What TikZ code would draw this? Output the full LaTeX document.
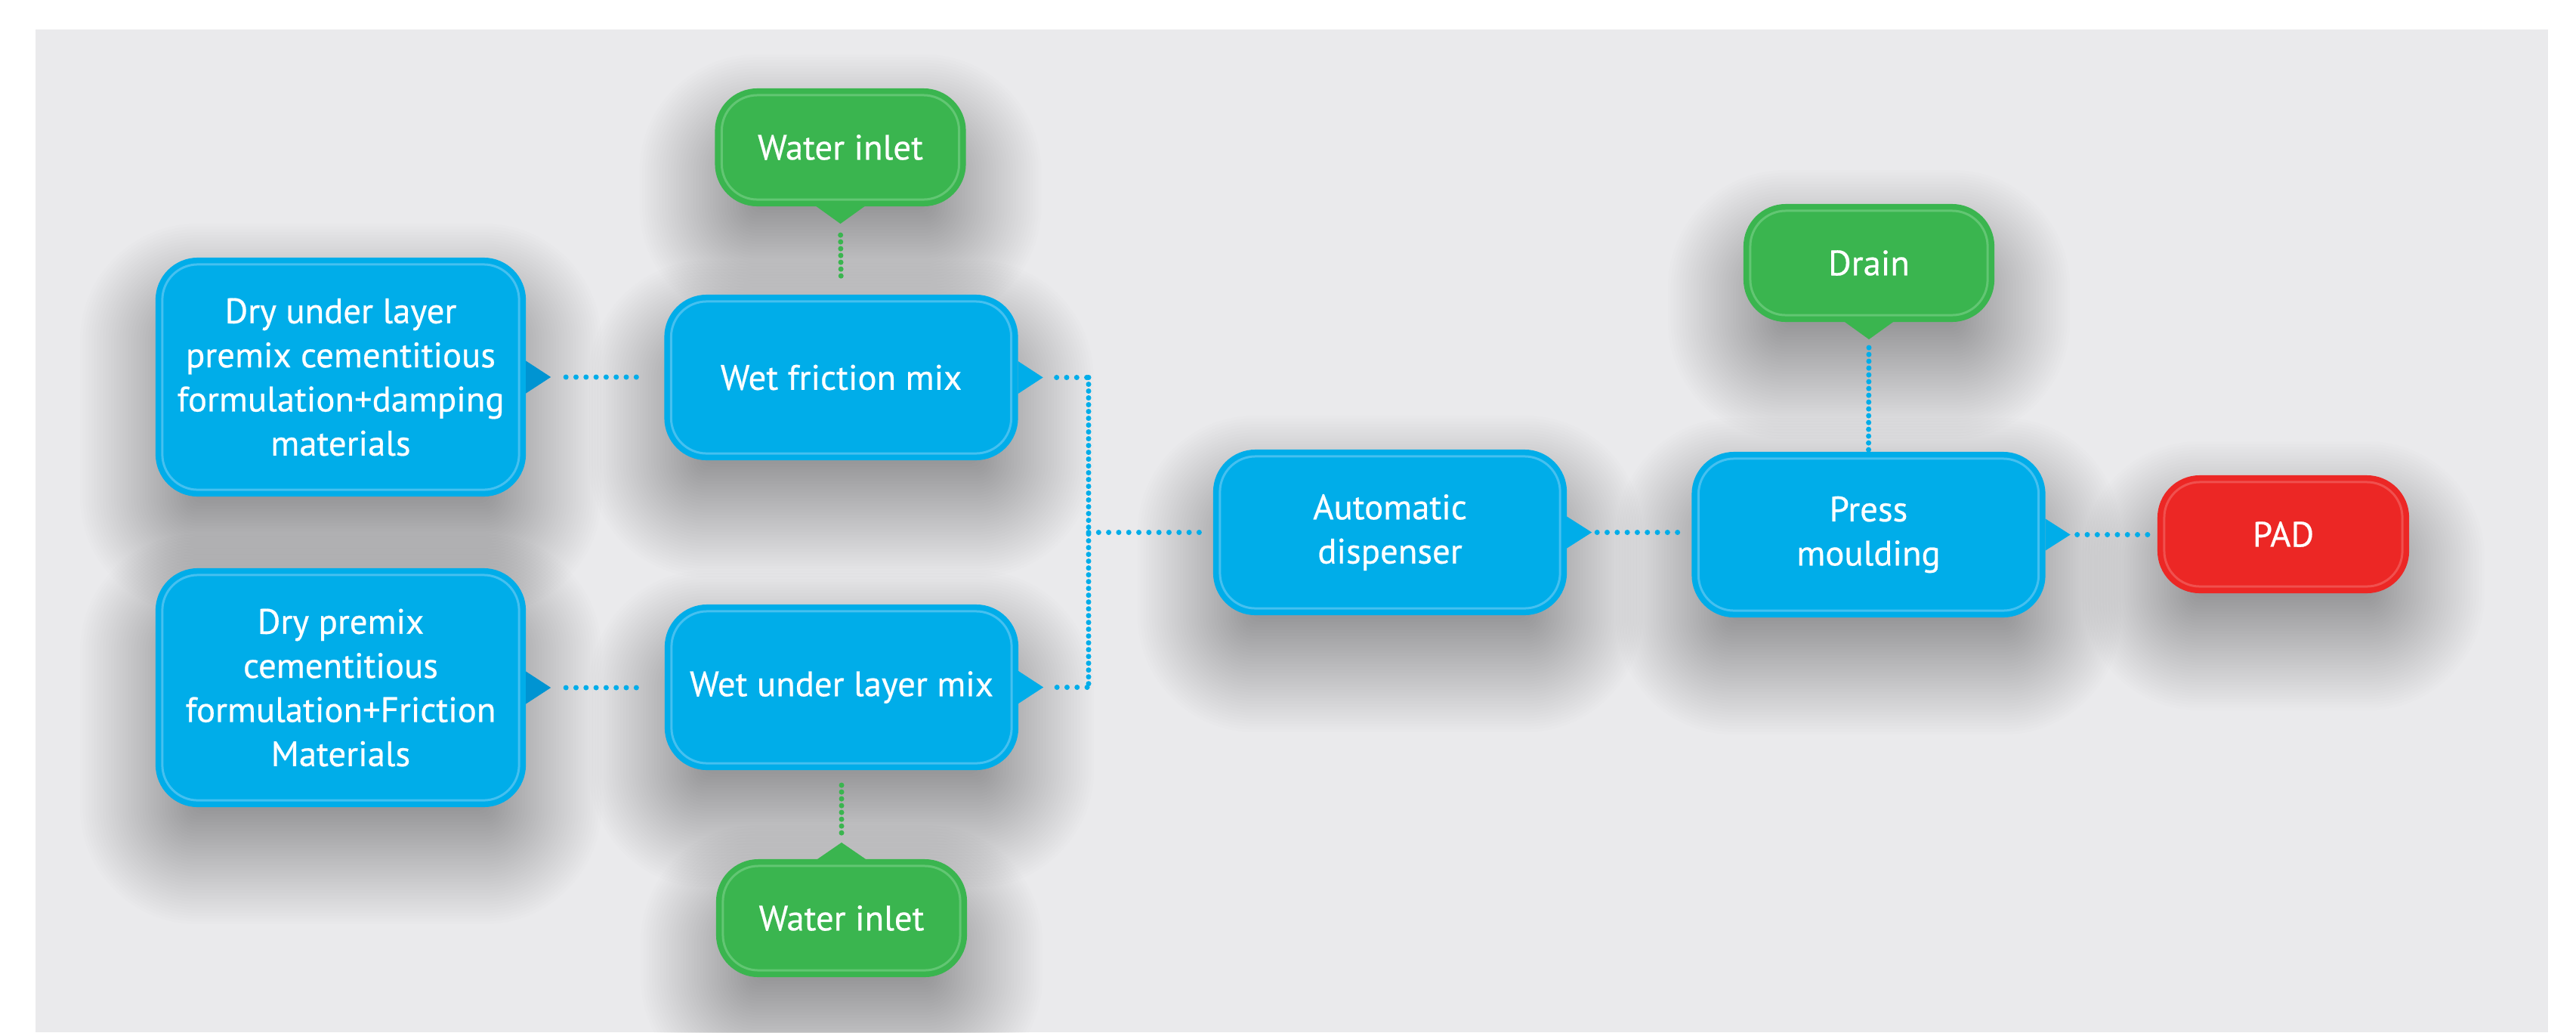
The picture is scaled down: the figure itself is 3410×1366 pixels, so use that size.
\documentclass[tikz,border=0pt]{standalone}
\usepackage{fontspec}
\setmainfont{PT Sans}[UprightFeatures={FakeBold=0.5}]
\usetikzlibrary{calc}
\pgfdeclarelayer{bgl}
\pgfdeclarelayer{shadow}
\pgfsetlayers{bgl,shadow,main}
\definecolor{bg}{HTML}{EAEAEC}
\definecolor{cblue}{HTML}{00ADE9}
\definecolor{cbluel}{HTML}{45C0F0}
\definecolor{cblued}{HTML}{0094D2}
\definecolor{cgreen}{HTML}{3AB54F}
\definecolor{cgreenl}{HTML}{62C673}
\definecolor{cred}{HTML}{EC2725}
\definecolor{credl}{HTML}{F0504E}
\newcommand\innerline[2]{\draw[#2, line width=0.03cm, rounded corners=0.47cm] ([xshift=0.09cm,yshift=-0.09cm]#1.north west) rectangle ([xshift=-0.09cm,yshift=0.09cm]#1.south east);}
\newcommand\rptr[3]{\fill[#2] ([yshift=#3]#1.east) -- ([xshift=0.33cm]#1.east) -- ([yshift=-#3]#1.east) -- cycle;}
\newcommand\dptr[2]{\fill[#2] ([xshift=-0.32cm]#1.south) -- ([yshift=-0.23cm]#1.south) -- ([xshift=0.32cm]#1.south) -- cycle;}
\newcommand\uptr[2]{\fill[#2] ([xshift=-0.32cm]#1.north) -- ([yshift=0.22cm]#1.north) -- ([xshift=0.32cm]#1.north) -- cycle;}
\newcommand\shadowof[1]{%
  \begin{pgfonlayer}{shadow}
  \foreach \s in {0,...,40}{%
    \pgfmathsetmacro\ee{\s*0.0375-0.5}%
    \pgfmathsetmacro\rr{max(0.55+\s*0.0375-0.5,0.15)}%
    \fill[black, fill opacity=0.0085, rounded corners=\rr cm]
      ([xshift=-\ee cm, yshift=\ee cm-0.55cm]#1.north west) rectangle
      ([xshift=\ee cm, yshift=-\ee cm-0.55cm]#1.south east);
  }
  \end{pgfonlayer}}
\begin{document}
\begin{tikzpicture}[x=0.01cm,y=-0.01cm,
  box/.style={rounded corners=0.55cm, inner sep=0pt, align=center, text=white,
    font=\fontsize{13.3pt}{16.6pt}\selectfont, line width=0.02cm},
  bluebox/.style={box, fill=cblue, draw=cblue},
  greenbox/.style={box, fill=cgreen, draw=cgreen, minimum width=3.3cm, minimum height=1.54cm},
  redbox/.style={box, fill=cred, draw=cred, minimum width=3.31cm, minimum height=1.54cm},
  bigbox/.style={bluebox, minimum width=4.88cm, minimum height=3.14cm},
  midbox/.style={bluebox, minimum width=4.66cm, minimum height=2.17cm},
  hdots/.style={draw=cblue, line width=0.07cm, line cap=round, dash pattern=on 0pt off 0.133cm},
  vdots/.style={draw=cblue, line width=0.07cm, line cap=round, dash pattern=on 0pt off 0.09cm},
  gdots/.style={draw=cgreen, line width=0.07cm, line cap=round, dash pattern=on 0pt off 0.09cm}
]
\useasboundingbox (0,0) rectangle (3410,1366);
\begin{pgfonlayer}{bgl}
\fill[white] (0,0) rectangle (3410,1366);
\fill[bg] (47,39) rectangle (3373,1366);
\end{pgfonlayer}

\node[greenbox] (w1) at (1112.5,195) {Water inlet};
\node[greenbox] (dr) at (2474,348) {Drain};
\node[bigbox] (d1) at (451,499) {Dry under layer\\premix cementitious\\formulation+damping\\materials};
\node[midbox] (wf) at (1113.5,499.5) {Wet friction mix};
\node[midbox] (ad) at (1840,704.5) {Automatic\\dispenser};
\node[midbox] (pm) at (2473.5,707.5) {Press\\moulding};
\node[redbox] (pad) at (3022.5,707) {PAD};
\node[bigbox] (d2) at (451,910) {Dry premix\\cementitious\\formulation+Friction\\Materials};
\node[midbox] (wu) at (1114,909.5) {Wet under layer mix};
\node[greenbox] (w2) at (1114,1215) {Water inlet};

\foreach \n in {w1,dr,d1,wf,ad,pm,pad,d2,wu,w2}{\shadowof{\n}}

\innerline{w1}{cgreenl}
\innerline{dr}{cgreenl}
\innerline{d1}{cbluel}
\innerline{wf}{cbluel}
\innerline{ad}{cbluel}
\innerline{pm}{cbluel}
\innerline{pad}{credl}
\innerline{d2}{cbluel}
\innerline{wu}{cbluel}
\innerline{w2}{cgreenl}

% pointers
\rptr{d1}{cblued}{0.215cm}
\rptr{d2}{cblued}{0.215cm}
\rptr{wf}{cblue}{0.215cm}
\rptr{wu}{cblue}{0.215cm}
\rptr{ad}{cblue}{0.21cm}
\rptr{pm}{cblue}{0.21cm}
\dptr{w1}{cgreen}
\dptr{dr}{cgreen}
\uptr{w2}{cgreen}

\coordinate (d1t) at ([xshift=0.33cm]d1.east);
\coordinate (d2t) at ([xshift=0.33cm]d2.east);
\coordinate (wft) at ([xshift=0.33cm]wf.east);
\coordinate (wut) at ([xshift=0.33cm]wu.east);
\coordinate (adt) at ([xshift=0.33cm]ad.east);
\coordinate (pmt) at ([xshift=0.33cm]pm.east);
\coordinate (w1t) at ([yshift=-0.23cm]w1.south);
\coordinate (drt) at ([yshift=-0.23cm]dr.south);
\coordinate (w2t) at ([yshift=0.22cm]w2.north);
\coordinate (jt) at (1441,499.5);
\coordinate (jb) at (1441,909.5);
\coordinate (jm) at (1441,704.5);

% connectors
\draw[hdots, shorten <=0.2cm, shorten >=0.33cm] (d1t) -- (d1t -| wf.west);
\draw[hdots, shorten <=0.2cm, shorten >=0.33cm] (d2t) -- (d2t -| wu.west);
\draw[hdots, shorten <=0.18cm] (wft) -- (jt);
\draw[hdots, shorten <=0.18cm] (wut) -- (jb);
\draw[vdots] (jt) -- (jb);
\draw[hdots, shorten >=0.17cm] (jm) -- (ad.west);
\draw[hdots, shorten <=0.07cm, shorten >=0.17cm] (adt) -- (adt -| pm.west);
\draw[hdots, shorten <=0.09cm, shorten >=0.09cm] (pmt) -- (pmt -| pad.west);
\draw[vdots, shorten <=0.11cm] (drt) -- (pm.north);
\draw[gdots, shorten <=0.15cm, shorten >=0.18cm] (w1t) -- (wf.north);
\draw[gdots, shorten <=0.2cm, shorten >=0.08cm] (wu.south) -- (w2t);
\end{tikzpicture}
\end{document}
